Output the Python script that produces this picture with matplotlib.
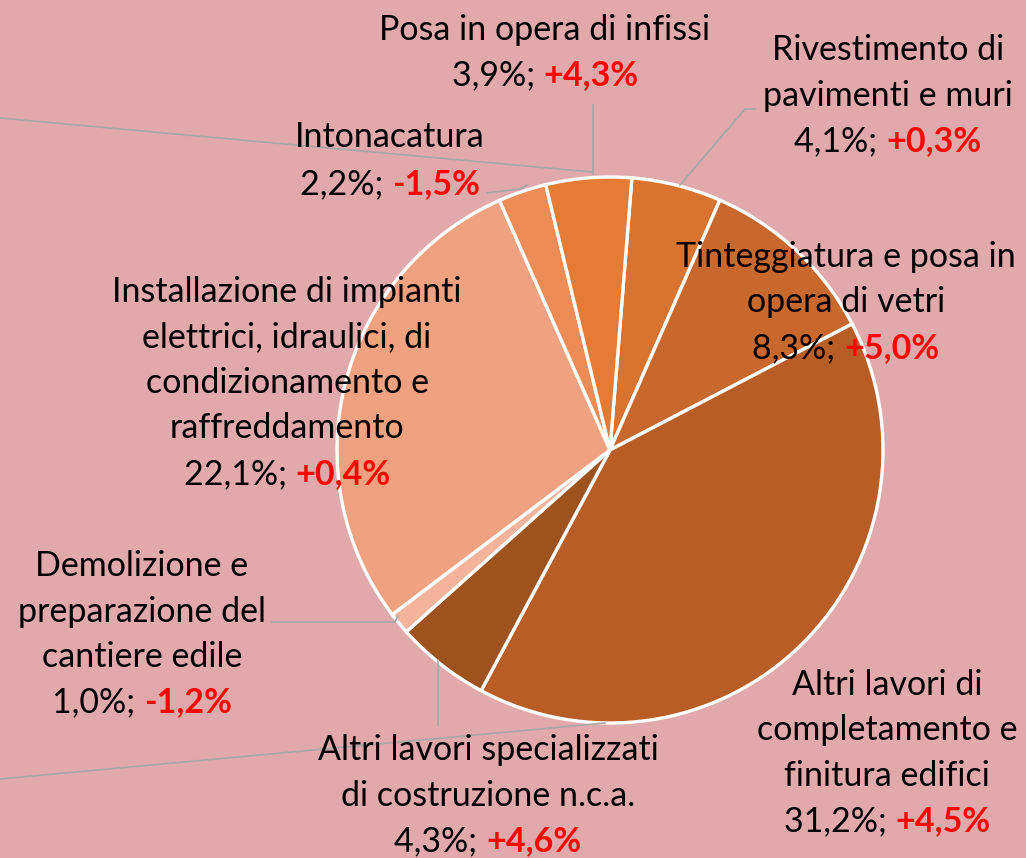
import matplotlib.pyplot as plt

# shares of the pie (%), clockwise from the top, and yearly change (%)
labels = ["Rivestimento di\npavimenti e muri",
          "Tinteggiatura e posa in\nopera di vetri",
          "Altri lavori di\ncompletamento e\nfinitura edifici",
          "Altri lavori specializzati\ndi costruzione n.c.a.",
          "Demolizione e\npreparazione del\ncantiere edile",
          "Installazione di impianti\nelettrici, idraulici, di\ncondizionamento e\nraffreddamento",
          "Intonacatura",
          "Posa in opera di infissi"]
shares = [4.1, 8.3, 31.2, 4.3, 1.0, 22.1, 2.2, 3.9]
changes = ["+0,3%", "+5,0%", "+4,5%", "+4,6%", "-1,2%", "+0,4%", "-1,5%", "+4,3%"]
colors = ["#D87430", "#C8682C", "#B85D25", "#9E531E",
          "#F4B49C", "#F0A17F", "#EE8C57", "#E57B34"]

# label centre x / first line y, in pixels from the top-left
label_pos = [(888, 50), (846, 257), (887, 685), (488, 750),
             (142, 566), (287, 292), (390, 137), (545, 30)]

W, H = 1026, 858
bg = "#E1A9AB"
fig = plt.figure(figsize=(W / 100, H / 100), dpi=100, facecolor=bg)
ax = fig.add_axes([0, 0, 1, 1])
ax.set_facecolor(bg)

ax.pie(shares, colors=colors, startangle=85.4, counterclock=False,
       center=(610, H - 450), radius=273,
       wedgeprops=dict(edgecolor="white", linewidth=2.4))
ax.set_xlim(0, W)
ax.set_ylim(0, H)
ax.set_aspect("equal")
ax.axis("off")

# leader lines (pixel coords)
leaders = [
    [(0, 118), (592, 172)],
    [(593, 105), (593, 174)],
    [(487, 193), (520, 189), (527, 185)],
    [(755, 109), (745, 109), (680, 185)],
    [(272, 622), (395, 622), (398, 616)],
    [(438, 660), (438, 725)],
    [(0, 779), (605, 723)],
]
for pts in leaders:
    ax.plot([p[0] for p in pts], [H - p[1] for p in pts],
            color="#A6A6A6", lw=1.2, zorder=1)

fs = 24.5
font = "Lato"
step = 45.5
renderer = fig.canvas.get_renderer()
for text, chg, share, (cx, y0) in zip(labels, changes, shares, label_pos):
    lines = text.split("\n")
    for i, ln in enumerate(lines):
        ax.text(cx, H - (y0 + i * step), ln, ha="center", va="center",
                fontsize=fs, family=font, color="black", zorder=5)
    y = H - (y0 + len(lines) * step)
    if text == "Intonacatura":
        y = H - (y0 + 47)
    left = f"{share:.1f}%; ".replace(".", ",")
    t1 = ax.text(cx, y, left, ha="left", va="center", fontsize=fs,
                 family=font, color="black", zorder=5)
    t2 = ax.text(cx, y, chg, ha="left", va="center", fontsize=fs,
                 family=font, color="red", fontweight="bold", zorder=5)
    w1 = t1.get_window_extent(renderer).width
    w2 = t2.get_window_extent(renderer).width
    x0 = cx - (w1 + w2) / 2
    t1.set_x(x0)
    t2.set_x(x0 + w1)

fig.savefig("out.png", dpi=100, facecolor=bg)
